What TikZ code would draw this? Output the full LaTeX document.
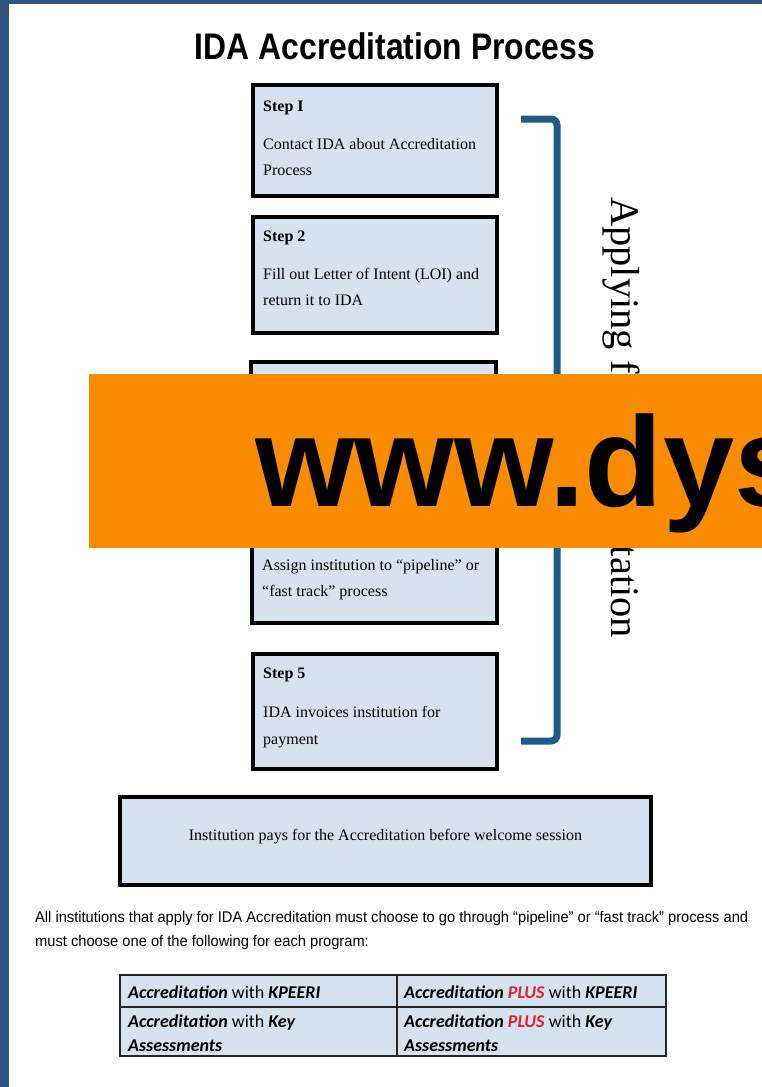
\documentclass[tikz,border=0pt]{standalone}
\usepackage{fontspec}
\setmainfont{Liberation Serif}
\newfontfamily\arialf{Liberation Sans}
\newfontfamily\calib{Carlito}
\usepackage{graphicx}
\newsavebox\lineonebox
\definecolor{leftbar}{RGB}{47,84,128}
\definecolor{boxblue}{RGB}{214,226,239}
\definecolor{tabblue}{RGB}{213,226,240}
\definecolor{brackblue}{RGB}{28,94,135}
\definecolor{wmorange}{RGB}{251,139,0}
\definecolor{plusred}{RGB}{224,32,42}
\tikzset{
  stepbox/.style={draw=black, line width=3.5pt, fill=boxblue, inner sep=0pt},
  head/.style={anchor=base west, inner sep=0pt, font=\bfseries\fontsize{16}{19}\selectfont},
  body/.style={anchor=base west, inner sep=0pt, font=\fontsize{16}{20}\selectfont},
  cell/.style={anchor=base west, inner sep=0pt, font=\calib\fontsize{18}{21}\selectfont},
}
\newcommand{\accb}{\textbf{\textit{Accreditation}}}
\begin{document}
\sbox\lineonebox{\arialf\fontsize{15.5}{18}\selectfont All institutions that apply for IDA Accreditation must choose to go through “pipeline” or “fast track” process and}%
\pgfmathsetmacro\parsx{713pt/\the\wd\lineonebox}%
\begin{tikzpicture}[x=1pt,y=-1pt]
\useasboundingbox (0,0) rectangle (762,1087);
\clip (0,0) rectangle (762,1087);
\fill[white] (0,0) rectangle (762,1087);
\fill[leftbar] (0,0) rectangle (9,1087);
\fill[leftbar] (0,0) rectangle (762,4);

% title
\node[anchor=base, inner sep=0pt] (title) at (395,59)
  {\resizebox{400pt}{\height}{\arialf\bfseries\fontsize{37}{40}\selectfont IDA Accreditation Process}};

% step boxes
\node[stepbox, minimum width=244pt, minimum height=111pt] (s1) at (375,140.5) {};
\node[stepbox, minimum width=244pt, minimum height=116pt] (s2) at (375,275) {};
\node[stepbox, minimum width=245pt, minimum height=116pt] (s3) at (373.5,420) {};
\node[stepbox, minimum width=245pt, minimum height=116pt] (s4) at (374.5,565) {};
\node[stepbox, minimum width=244pt, minimum height=115pt] (s5) at (375,711.5) {};

\node[head] (h1) at (263,111) {Step I};
\node[body] (b1a) at (263,149) {Contact IDA about Accreditation};
\node[body] (b1b) at (263,175) {Process};

\node[head] (h2) at (263,241) {Step 2};
\node[body] (b2a) at (263,279) {Fill out Letter of Intent (LOI) and};
\node[body] (b2b) at (263,305) {return it to IDA};

\node[head] (h3) at (261,385) {Step 3};

\node[body] (b4a) at (262,570) {Assign institution to “pipeline” or};
\node[body] (b4b) at (262,596) {“fast track” process};

\node[head] (h5) at (263,678) {Step 5};
\node[body] (b5a) at (263,717) {IDA invoices institution for};
\node[body] (b5b) at (263,744) {payment};

% bracket
\coordinate (bt) at (521,119);
\coordinate (bb) at (521,741);
\draw[brackblue, line width=7pt, rounded corners=6pt] (bt) -- (557,119) -- (557,741) -- (bb);

\node[rotate=-90, anchor=base west, inner sep=0pt, font=\fontsize{40.5}{44}\selectfont] (apply) at (611,197) {Applying for Accreditation};

% bottom box
\node[stepbox, line width=4pt, minimum width=531pt, minimum height=88pt] (pay) at (385.5,841) {};
\node[anchor=base, inner sep=0pt, font=\fontsize{16}{19}\selectfont] (paytext) at (385.5,840) {Institution pays for the Accreditation before welcome session};

% paragraph
\node[anchor=base west, inner sep=0pt] (p1) at (35,922) {\scalebox{\parsx}[1]{\usebox\lineonebox}};
\node[anchor=base west, inner sep=0pt] (p2) at (35,946) {\scalebox{\parsx}[1]{\arialf\fontsize{15.5}{18}\selectfont must choose one of the following for each program:}};

% table
\fill[tabblue] (120,975) rectangle (666,1056);
\draw[black!85, line width=1.6pt] (120,975) rectangle (666,1056);
\draw[black!85, line width=1.6pt] (397,975) -- (397,1056);
\draw[black!85, line width=1.6pt] (120,1007) -- (666,1007);
\node[cell] (c11) at (128,998) {\accb{} with \textbf{\textit{KPEERI}}};
\node[cell] (c12) at (404,998) {\accb{} \textcolor{plusred}{\textbf{\textit{PLUS}}} with \textbf{\textit{KPEERI}}};
\node[cell] (c21a) at (128,1027) {\accb{} with \textbf{\textit{Key}}};
\node[cell] (c21b) at (128,1051) {\textbf{\textit{Assessments}}};
\node[cell] (c22a) at (404,1027) {\accb{} \textcolor{plusred}{\textbf{\textit{PLUS}}} with \textbf{\textit{Key}}};
\node[cell] (c22b) at (404,1051) {\textbf{\textit{Assessments}}};

% watermark band
\fill[wmorange] (89,374) rectangle (770,548);
\node[anchor=base west, inner sep=0pt, font=\arialf\bfseries\fontsize{128}{130}\selectfont] (wm) at (255,506) {www.dys};
\end{tikzpicture}
\end{document}
